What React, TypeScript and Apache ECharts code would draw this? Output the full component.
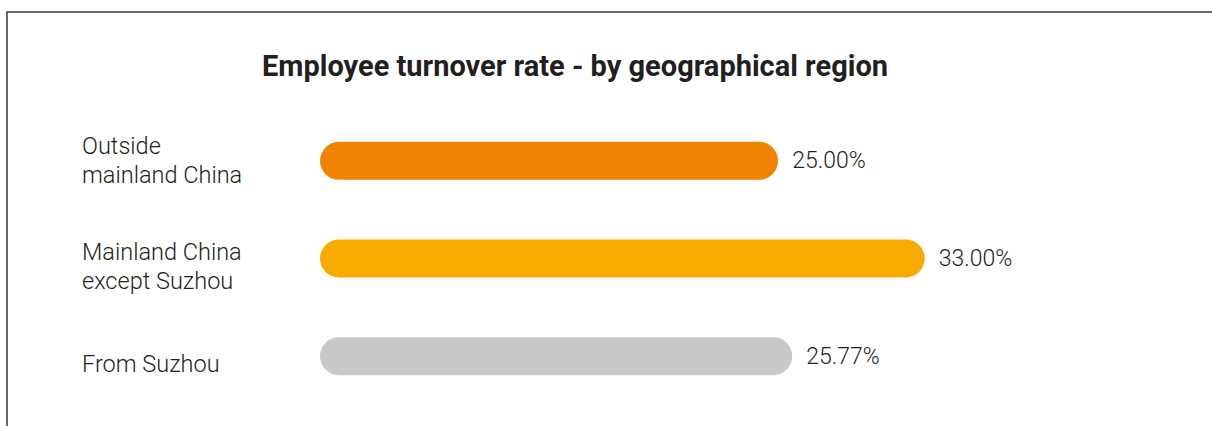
import React, { useEffect, useRef } from "react";
import * as echarts from "echarts";

const categories = ["Outside\nmainland China", "Mainland China\nexcept Suzhou", "From Suzhou"];
const values = [25.0, 33.0, 25.77];
const barColors = ["#f08300", "#f7ab00", "#c9c9c9"];
const titleText = "Employee turnover rate - by geographical region";

const labelFont = {
  fontFamily: "Roboto",
  fontWeight: 300,
  fontSize: 23.5,
  lineHeight: 29,
  color: "#231f20",
};

export default function App() {
  const ref = useRef<HTMLDivElement>(null);
  useEffect(() => {
    if (!ref.current) return;
    const chart = echarts.init(ref.current, null, { renderer: "svg" });
    chart.setOption({
      animation: false,
      backgroundColor: "#ffffff",
      title: {
        text: titleText,
        left: 257,
        top: 46,
        textStyle: {
          fontFamily: "Roboto",
          fontWeight: "bold",
          fontSize: 29,
          color: "#231f20",
        },
      },
      graphic: [
        {
          type: "rect",
          shape: { x: 7, y: 12, width: 1300, height: 500 },
          style: { fill: "none", stroke: "#3a3735", lineWidth: 1.5 },
          silent: true,
        },
      ],
      grid: {
        left: 320,
        width: 733,
        top: 112,
        height: 293,
        containLabel: false,
        outerBoundsMode: "none",
      },
      xAxis: {
        type: "value",
        min: 0,
        max: 40,
        show: false,
      },
      yAxis: {
        type: "category",
        inverse: true,
        data: categories,
        axisLine: { show: false },
        axisTick: { show: false },
        axisLabel: {
          margin: 238,
          align: "left",
          ...labelFont,
          formatter: (value: string, idx: number) => {
            if (idx === 0) return value;
            return value
              .split("\n")
              .map((l) => `{p|${l}}`)
              .join("\n");
          },
          rich: {
            p: { ...labelFont, padding: [15, 0, 0, 0] },
          },
        },
      },
      series: [
        {
          type: "bar",
          barWidth: 38,
          data: values.map((v, i) => ({
            value: v,
            itemStyle: { color: barColors[i], borderRadius: 19 },
          })),
          label: {
            show: true,
            position: "right",
            distance: 14,
            formatter: (p: any) => p.value.toFixed(2) + "%",
            fontFamily: "Roboto",
            fontWeight: 300,
            fontSize: 23,
            color: "#231f20",
          },
        },
      ],
    });
    return () => chart.dispose();
  }, []);
  return (
    <div
      ref={ref}
      style={{ position: "fixed", left: 0, top: 0, width: 1212, height: 426 }}
    />
  );
}
